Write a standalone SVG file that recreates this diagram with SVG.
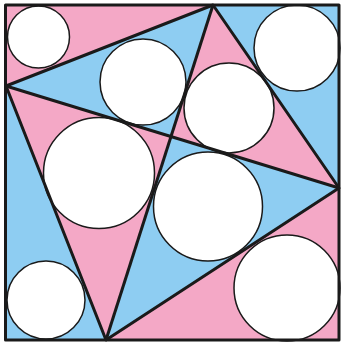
<svg xmlns="http://www.w3.org/2000/svg" width="342" height="345" viewBox="0 0 342 345">
<style>
.pink{fill:#F4A8C6}
.blue{fill:#8ECDF2}
.ln{stroke:#1a1a1a;stroke-width:3;fill:none;stroke-linejoin:round}
.c{fill:#fff;stroke:#1a1a1a;stroke-width:1.5}
</style>
<rect x="0" y="0" width="342" height="345" fill="#fff"/>
<g id="regions">
<polygon class="pink" points="6,5 213,5 6,86"/>
<polygon class="blue" points="213,5 339,5 339,188"/>
<polygon class="pink" points="339,188 339,340 106,340"/>
<polygon class="blue" points="6,86 106,340 6,340"/>
<polygon class="blue" points="6,86 213,5 171,136"/>
<polygon class="pink" points="213,5 339,188 171,136"/>
<polygon class="blue" points="339,188 106,340 171,136"/>
<polygon class="pink" points="106,340 6,86 171,136"/>
</g>
<g id="circles">
<circle id="c1" class="c" cx="38.5" cy="37" r="31"/>
<circle id="c2" class="c" cx="143" cy="82" r="43"/>
<circle id="c3" class="c" cx="297" cy="48" r="43"/>
<circle id="c4" class="c" cx="229" cy="108" r="45"/>
<circle id="c5" class="c" cx="99" cy="173" r="55.5"/>
<circle id="c6" class="c" cx="208" cy="206.5" r="54.5"/>
<circle id="c7" class="c" cx="46" cy="300" r="39"/>
<circle id="c8" class="c" cx="287" cy="288" r="53"/>
</g>
<g id="connectors">
<polygon class="ln" points="6,86 213,5 339,188 106,340"/>
<line class="ln" x1="6" y1="86" x2="339" y2="188"/>
<line class="ln" x1="213" y1="5" x2="106" y2="340"/>
<rect class="ln" x="5.5" y="5" width="333.5" height="335"/>
</g>
</svg>
